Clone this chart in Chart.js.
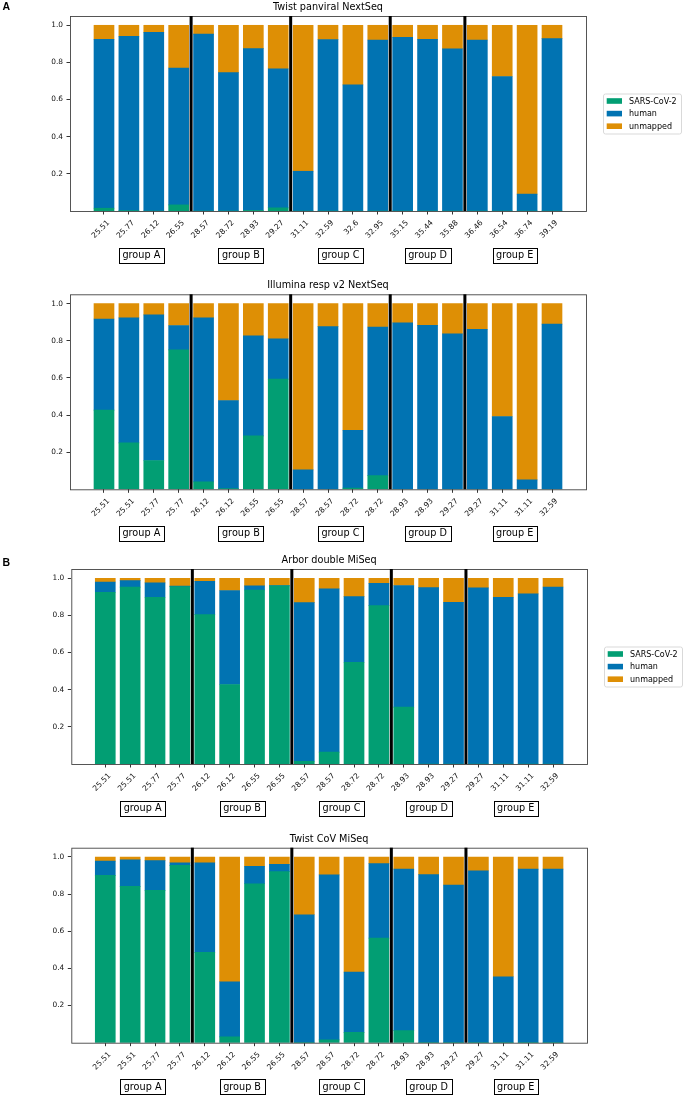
<!DOCTYPE html>
<html>
<head>
<meta charset="utf-8">
<script src="https://cdn.jsdelivr.net/npm/chart.js@4.4.1/dist/chart.umd.min.js"></script>
<style>
    html, body { margin: 0; padding: 0; background: #fff; overflow: hidden; }
    canvas { position: absolute; left: 0; }
</style>
</head>
<body>
<canvas id="panel1" width="685" height="270" style="top:0px"></canvas>
<canvas id="panel2" width="685" height="270" style="top:276px"></canvas>
<canvas id="panel3" width="685" height="270" style="top:548px"></canvas>
<canvas id="panel4" width="685" height="270" style="top:826px"></canvas>
<script>
const seriesNames = ['SARS-CoV-2', 'human', 'unmapped'];
const seriesColors = ['#029E73', '#0173B2', '#DE8F05'];

const groupNames = ['group A', 'group B', 'group C', 'group D', 'group E'];
const groupSizes = [4, 4, 4, 3, 4];

// Ct values under each bar
const twistPanLabels = ['25.51', '25.77', '26.12', '26.55', '28.57', '28.72', '28.93', '29.27', '31.11', '32.59',
    '32.6', '32.95', '35.15', '35.44', '35.88', '36.46', '36.54', '36.74', '39.19'];
const sampleLabels = ['25.51', '25.51', '25.77', '25.77', '26.12', '26.12', '26.55', '26.55', '28.57', '28.57',
    '28.72', '28.72', '28.93', '28.93', '29.27', '29.27', '31.11', '31.11', '32.59'];

// Twist panviral NextSeq
const twistPanSars = [0.015, 0.002, 0, 0.033, 0, 0, 0.003, 0.017, 0, 0, 0, 0, 0, 0, 0, 0, 0, 0, 0];
const twistPanHuman = [0.910, 0.939, 0.962, 0.737, 0.952, 0.745, 0.871, 0.748, 0.214, 0.923,
    0.679, 0.921, 0.935, 0.925, 0.873, 0.921, 0.724, 0.091, 0.928];
const twistPanUnmapped = [0.075, 0.059, 0.038, 0.230, 0.048, 0.255, 0.126, 0.235, 0.786, 0.077,
    0.321, 0.079, 0.065, 0.075, 0.127, 0.079, 0.276, 0.909, 0.072];

// Illumina resp v2 NextSeq
const illuminaSars = [0.426, 0.250, 0.155, 0.751, 0.040, 0.004, 0.288, 0.593, 0, 0, 0.006, 0.074, 0, 0, 0, 0, 0, 0, 0];
const illuminaHuman = [0.491, 0.673, 0.784, 0.131, 0.883, 0.474, 0.538, 0.217, 0.105, 0.876,
    0.312, 0.800, 0.896, 0.883, 0.837, 0.862, 0.392, 0.051, 0.889];
const illuminaUnmapped = [0.083, 0.077, 0.061, 0.118, 0.077, 0.522, 0.174, 0.190, 0.895, 0.124,
    0.682, 0.126, 0.104, 0.117, 0.163, 0.138, 0.608, 0.949, 0.111];

// Arbor double MiSeq
const arborSars = [0.925, 0.952, 0.898, 0.955, 0.804, 0.428, 0.937, 0.959, 0.015, 0.064,
    0.548, 0.853, 0.306, 0, 0, 0, 0, 0, 0];
const arborHuman = [0.055, 0.035, 0.077, 0.003, 0.180, 0.506, 0.022, 0.002, 0.854, 0.879,
    0.353, 0.120, 0.655, 0.950, 0.871, 0.948, 0.898, 0.916, 0.953];
const arborUnmapped = [0.020, 0.013, 0.025, 0.042, 0.016, 0.066, 0.041, 0.039, 0.131, 0.057,
    0.099, 0.027, 0.039, 0.050, 0.129, 0.052, 0.102, 0.084, 0.047];

// Twist CoV MiSeq
const twistCovSars = [0.901, 0.842, 0.820, 0.955, 0.486, 0.031, 0.856, 0.921, 0, 0.015,
    0.056, 0.563, 0.065, 0, 0, 0, 0, 0, 0];
const twistCovHuman = [0.077, 0.143, 0.160, 0.014, 0.483, 0.297, 0.094, 0.039, 0.689, 0.889,
    0.324, 0.401, 0.870, 0.905, 0.849, 0.926, 0.355, 0.935, 0.935];
const twistCovUnmapped = [0.022, 0.015, 0.020, 0.031, 0.031, 0.672, 0.050, 0.040, 0.311, 0.096,
    0.620, 0.036, 0.065, 0.095, 0.151, 0.074, 0.645, 0.065, 0.065];

const panels = [
    { id: 'panel1', title: 'Twist panviral NextSeq', letter: 'A', letterY: 7, legend: true,
      labels: twistPanLabels, values: [twistPanSars, twistPanHuman, twistPanUnmapped],
      canvasTop: 0, plotTop: 16, plotLeft: 70, plotRight: 586 },
    { id: 'panel2', title: 'Illumina resp v2 NextSeq', letter: null, legend: false,
      labels: sampleLabels, values: [illuminaSars, illuminaHuman, illuminaUnmapped],
      canvasTop: 276, plotTop: 294.3, plotLeft: 70, plotRight: 586 },
    { id: 'panel3', title: 'Arbor double MiSeq', letter: 'B', letterY: 15, legend: true,
      labels: sampleLabels, values: [arborSars, arborHuman, arborUnmapped],
      canvasTop: 548, plotTop: 569, plotLeft: 71.3, plotRight: 587 },
    { id: 'panel4', title: 'Twist CoV MiSeq', letter: null, legend: false,
      labels: sampleLabels, values: [twistCovSars, twistCovHuman, twistCovUnmapped],
      canvasTop: 826, plotTop: 847.7, plotLeft: 71.3, plotRight: 587 }
];

const PLOT_HEIGHT = 195;
const CANVAS_HEIGHT = 270;
const FONT = '"DejaVu Sans", sans-serif';

// frame, group separators, group boxes, title, panel letter and legend
const decorPlugin = {
    id: 'decor',
    afterDraw(chart, args, opts) {
        const { ctx, chartArea: a } = chart;
        const x = chart.scales.x;
        ctx.save();

        ctx.strokeStyle = '#444';
        ctx.lineWidth = 0.9;
        ctx.strokeRect(a.left + 0.5, a.top + 0.5, a.right - a.left, a.bottom - a.top);

        // thick separators between groups
        let start = 0;
        ctx.strokeStyle = '#000';
        ctx.lineWidth = 3;
        groupSizes.forEach((size, g) => {
            if (g > 0) {
                const px = x.getPixelForValue(start - 0.5);
                ctx.beginPath();
                ctx.moveTo(px, a.top);
                ctx.lineTo(px, a.bottom);
                ctx.stroke();
            }
            start += size;
        });

        // boxed group names
        start = 0;
        ctx.font = '9.7px ' + FONT;
        ctx.textAlign = 'center';
        ctx.textBaseline = 'middle';
        groupSizes.forEach((size, g) => {
            const cx = x.getPixelForValue(start + (size - 1) / 2);
            const cy = a.bottom + 44;
            const w = ctx.measureText(groupNames[g]).width + 7;
            ctx.fillStyle = '#fff';
            ctx.fillRect(cx - w / 2, cy - 7.5, w, 15);
            ctx.strokeStyle = '#000';
            ctx.lineWidth = 1;
            ctx.strokeRect(Math.round(cx - w / 2) + 0.5, Math.round(cy - 7.5) + 0.5, Math.round(w), 15);
            ctx.fillStyle = '#000';
            ctx.fillText(groupNames[g], cx, cy + 0.5);
            start += size;
        });

        // title
        ctx.font = '9.7px ' + FONT;
        ctx.fillText(opts.title, (a.left + a.right) / 2, a.top - 8.5);

        if (opts.letter) {
            ctx.font = 'bold 10.5px "Liberation Sans", Arial, sans-serif';
            ctx.textAlign = 'left';
            ctx.fillText(opts.letter, 2.5, opts.letterY);
        }

        if (opts.legend) {
            const lx = a.right + 17;
            const ly = (a.top + a.bottom) / 2 - 20;
            ctx.strokeStyle = '#d9d9d9';
            ctx.lineWidth = 1;
            ctx.beginPath();
            ctx.roundRect(lx + 0.5, ly + 0.5, 78, 40, 2);
            ctx.stroke();
            ctx.font = '8px ' + FONT;
            ctx.textAlign = 'left';
            seriesNames.forEach((name, s) => {
                const ry = ly + 7.5 + s * 12.6;
                ctx.fillStyle = seriesColors[s];
                ctx.fillRect(lx + 3.7, ry - 2.8, 15.3, 5.6);
                ctx.fillStyle = '#000';
                ctx.fillText(name, lx + 26, ry + 0.5);
            });
        }
        ctx.restore();
    }
};

class StackedPanel {
    constructor(panel) {
        this.panel = panel;
    }

    render() {
        const p = this.panel;
        const ctx = document.getElementById(p.id).getContext('2d');
        const padTop = p.plotTop - p.canvasTop;
        const axisHeight = CANVAS_HEIGHT - padTop - PLOT_HEIGHT;

        this.chart = new Chart(ctx, {
            type: 'bar',
            data: {
                datasets: seriesNames.map((name, s) => ({
                    label: name,
                    data: p.values[s].map((v, i) => ({ x: i, y: v })),
                    backgroundColor: seriesColors[s],
                    barThickness: 20
                }))
            },
            options: {
                responsive: false,
                animation: false,
                layout: { padding: { top: padTop, right: 685 - p.plotRight, bottom: 0, left: 0 } },
                plugins: {
                    legend: { display: false },
                    tooltip: { enabled: false },
                    decor: { title: p.title, letter: p.letter, letterY: p.letterY, legend: p.legend }
                },
                scales: {
                    x: {
                        type: 'linear',
                        stacked: true,
                        offset: false,
                        min: -1.366,
                        max: 19.366,
                        afterBuildTicks: (scale) => {
                            scale.ticks = p.labels.map((_, i) => ({ value: i }));
                        },
                        afterFit: (scale) => { scale.height = axisHeight; },
                        border: { display: false },
                        grid: { drawOnChartArea: false, offset: false, tickLength: 3.5, color: '#333' },
                        ticks: {
                            autoSkip: false,
                            minRotation: 45,
                            maxRotation: 45,
                            padding: 4,
                            labelOffset: 4.5,
                            color: '#111',
                            font: { family: FONT, size: 7.6 },
                            callback: (value) => p.labels[value]
                        }
                    },
                    y: {
                        stacked: true,
                        min: 0,
                        max: 1.05,
                        afterBuildTicks: (scale) => {
                            scale.ticks = [0.2, 0.4, 0.6, 0.8, 1.0].map(v => ({ value: v }));
                        },
                        afterFit: (scale) => { scale.width = p.plotLeft; },
                        border: { display: false },
                        grid: { drawOnChartArea: false, tickLength: 3.5, color: '#333' },
                        ticks: {
                            padding: 3.5,
                            color: '#111',
                            font: { family: FONT, size: 7.4 },
                            callback: (value) => value.toFixed(1)
                        }
                    }
                }
            },
            plugins: [decorPlugin]
        });
    }
}

const onload = () => {
    panels.forEach((panel) => {
        const chart = new StackedPanel(panel);
        chart.render();
    });
};

document.addEventListener('DOMContentLoaded', onload);
</script>
</body>
</html>
